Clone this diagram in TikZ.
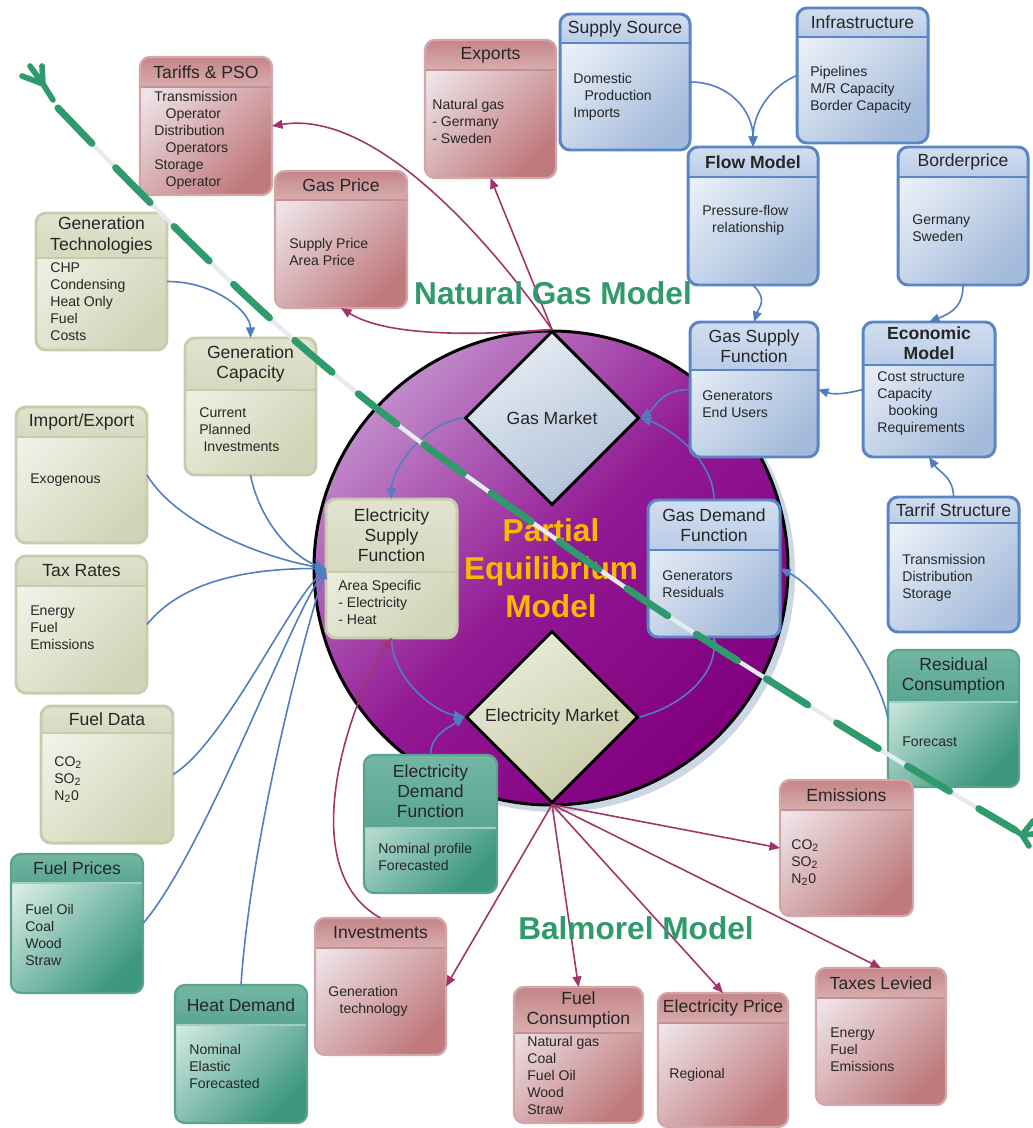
\documentclass[tikz,border=0pt]{standalone}
\usepackage{fontspec}
\setmainfont{Liberation Sans}
\usepackage{tikz}
\usetikzlibrary{
  arrows.meta,
  calc,
  shapes.geometric
}

\definecolor{redlt}{HTML}{EEE4E8}
\definecolor{reddk}{HTML}{C07A7D}
\definecolor{redhd}{HTML}{C58587}
\definecolor{redhd2}{HTML}{D8AEAF}
\definecolor{redfrm}{HTML}{D3A7A9}
\definecolor{redrl}{HTML}{C39193}
\definecolor{grnlt}{HTML}{F1F2E8}
\definecolor{grndk}{HTML}{D1D5B7}
\definecolor{grnhd}{HTML}{E1E3CF}
\definecolor{grnhd2}{HTML}{D6D9BF}
\definecolor{grnfrm}{HTML}{C8CCAC}
\definecolor{blult}{HTML}{EAF0F8}
\definecolor{bludk}{HTML}{A4BBDB}
\definecolor{bluhd}{HTML}{D2DEF0}
\definecolor{bluhd2}{HTML}{BACCE6}
\definecolor{blufrm}{HTML}{5A86C6}
\definecolor{teallt}{HTML}{D6ECE6}
\definecolor{tealdk}{HTML}{3C977E}
\definecolor{tealhd}{HTML}{73B6A3}
\definecolor{tealhd2}{HTML}{5AA791}
\definecolor{tealfrm}{HTML}{5BA38E}
\definecolor{tealrl}{HTML}{9FD0C2}
\definecolor{purlt}{HTML}{C08ACA}
\definecolor{purmd}{HTML}{921894}
\definecolor{purdk}{HTML}{80007E}
\definecolor{gaslt}{HTML}{E6ECF4}
\definecolor{gasdk}{HTML}{AFC0D6}
\definecolor{ellt}{HTML}{E9EBD9}
\definecolor{eldk}{HTML}{C7CAA6}
\definecolor{linkblue}{HTML}{4F7FC1}
\definecolor{linkred}{HTML}{A3336A}
\definecolor{modelgreen}{HTML}{2F9A6B}
\definecolor{pemgold}{HTML}{F8B800}
\definecolor{shadegray}{HTML}{CCD6E4}
\definecolor{dashgray}{HTML}{E6EBF1}
\definecolor{txtdark}{HTML}{262626}

\tikzset{
  red box/.style={rounded corners=0.2cm, inner sep=0pt, outer sep=0pt,
    top color=redlt, bottom color=reddk, shading angle=45},
  red head/.style={top color=redhd, bottom color=redhd2},
  red rule/.style={draw=redrl, line width=1pt},
  red frame/.style={draw=redfrm, line width=1.3pt, rounded corners=0.2cm},
  green box/.style={rounded corners=0.2cm, inner sep=0pt, outer sep=0pt,
    top color=grnlt, bottom color=grndk, shading angle=45},
  green head/.style={top color=grnhd, bottom color=grnhd2},
  green rule/.style={draw=grnfrm, line width=1pt},
  green frame/.style={draw=grnfrm, line width=1.7pt, rounded corners=0.2cm},
  blue box/.style={rounded corners=0.2cm, inner sep=0pt, outer sep=0pt,
    top color=blult, bottom color=bludk, shading angle=45},
  blue head/.style={top color=bluhd, bottom color=bluhd2},
  blue rule/.style={draw=blufrm, line width=1.4pt},
  blue frame/.style={draw=blufrm, line width=1.7pt, rounded corners=0.2cm},
  teal box/.style={rounded corners=0.2cm, inner sep=0pt, outer sep=0pt,
    top color=teallt, bottom color=tealdk, shading angle=45},
  teal head/.style={top color=tealhd, bottom color=tealhd2},
  teal rule/.style={draw=tealrl, line width=1pt},
  teal frame/.style={draw=tealfrm, line width=1.3pt, rounded corners=0.2cm},
  boxtitle/.style={font=\fontsize{10}{11.5}\selectfont, align=center,
    text=txtdark, inner sep=0pt},
  boxbody/.style={font=\fontsize{8}{9.7}\selectfont, align=left,
    anchor=north west, inner sep=0pt, text=txtdark},
  pemshadow/.style={circle, minimum size=478*0.02cm, inner sep=0pt, fill=shadegray},
  pemcircle/.style={circle, minimum size=474*0.02cm, inner sep=0pt,
    draw=black, line width=1.7pt,
    top color=purlt, bottom color=purdk, middle color=purmd, shading angle=45,
    font=\bfseries\fontsize{18}{21.5}\selectfont, text=pemgold, align=center},
  gasdia/.style={diamond, minimum width=174*0.02cm, minimum height=174*0.02cm,
    inner sep=0pt, draw=black, line width=1.7pt,
    top color=gaslt, bottom color=gasdk, shading angle=30,
    font=\fontsize{10}{12}\selectfont, text=txtdark},
  eldia/.style={diamond, minimum width=172*0.02cm, minimum height=172*0.02cm,
    inner sep=0pt, draw=black, line width=1.7pt,
    top color=ellt, bottom color=eldk, shading angle=30,
    font=\fontsize{10}{12}\selectfont, text=txtdark},
  modeltitle/.style={font=\bfseries\fontsize{18}{20}\selectfont, text=modelgreen},
  bluelink/.style={draw=linkblue, line width=0.9pt, -{Triangle[length=6pt,width=5pt]}},
  redlink/.style={draw=linkred, line width=0.9pt, -{Triangle[length=6pt,width=5pt]}},
  gasline/.style={draw=modelgreen, line width=4pt, line cap=round,
    dash pattern=on 0.98cm off 0.68cm},
  gasshade/.style={draw=dashgray, line width=2.5pt},
  forkline/.style={draw=modelgreen, line width=3.2pt, line cap=round}
}

% name, kind, top left, width, height, header height, title, body corner, body
\newcommand{\umlbox}[9]{%
  \node[#2 box, anchor=north west, minimum width=#4*0.02cm,
    minimum height=#5*0.02cm] (#1) at (#3) {};
  \begin{scope}
    \clip[rounded corners=0.2cm] (#1.north west) rectangle (#1.south east);
    \path[#2 head] (#1.north west) rectangle ($(#1.north east)+(0,#6)$);
  \end{scope}
  \draw[#2 rule] ($(#1.north west)+(0,#6)$) -- ($(#1.north east)+(0,#6)$);
  \draw[#2 frame] (#1.north west) rectangle (#1.south east);
  \node[boxtitle] (#1-t) at ($(#1.north)+(0,#6/2)$) {#7};
  \node[boxbody] (#1-b) at (#8) {#9};
}

\begin{document}
\begin{tikzpicture}[x=0.02cm, y=-0.02cm]
\useasboundingbox (0,0) rectangle (1033,1128);
\fill[white] (0,0) rectangle (1033,1128);

% the equilibrium core
\node[pemshadow] (pemsh) at (556,573) {};
\node[pemcircle] (pem) at (551,568) {Partial\\Equilibrium\\Model};
\node[gasdia] (gasmarket) at (552,418) {Gas Market};
\node[eldia] (elmarket) at (552,717) {Electricity Market};

% natural gas side
\umlbox{tariffs}{red}{140,57}{132}{138}{30}{Tariffs \& PSO}{154,91}{Transmission\\\hspace*{0.8em}Operator\\Distribution\\\hspace*{0.8em}Operators\\Storage\\\hspace*{0.8em}Operator}
\umlbox{gasprice}{red}{275,171}{132}{137}{29}{Gas Price}{289,238}{Supply Price\\Area Price}
\umlbox{exports}{red}{425,40}{131}{138}{30}{Exports}{432,99}{Natural gas\\- Germany\\- Sweden}
\umlbox{supply}{blue}{560,14}{130}{136}{29}{Supply Source}{573,73}{Domestic\\\hspace*{0.8em}Production\\Imports}
\umlbox{infra}{blue}{797,8}{131}{135}{29}{Infrastructure}{810,66}{Pipelines\\M/R Capacity\\Border Capacity}
\umlbox{flow}{blue}{688,147}{130}{138}{30}{\textbf{Flow Model}}{702,205}{Pressure-flow\\\hspace*{0.7em}relationship}
\umlbox{border}{blue}{898,147}{130}{138}{30}{Borderprice}{912,214}{Germany\\Sweden}
\umlbox{gassupply}{blue}{690,322}{128}{135}{48}{Gas Supply\\Function}{702,390}{Generators\\End Users}
\umlbox{econ}{blue}{863,322}{132}{135}{43}{\textbf{Economic}\\\textbf{Model}}{877,371}{Cost structure\\Capacity\\\hspace*{0.8em}booking\\Requirements}
\umlbox{tarstruct}{blue}{888,497}{131}{135}{26}{Tarrif Structure}{902,554}{Transmission\\Distribution\\Storage}
\umlbox{gasdemand}{blue}{648,500}{132}{137}{50}{Gas Demand\\Function}{662,570}{Generators\\Residuals}
\umlbox{residual}{teal}{888,650}{131}{137}{52}{Residual\\Consumption}{902,736}{Forecast}

% electricity side
\umlbox{gentech}{green}{36,213}{131}{137}{45}{Generation\\Technologies}{50,262}{CHP\\Condensing\\Heat Only\\Fuel\\Costs}
\umlbox{gencap}{green}{185,338}{131}{137}{52}{Generation\\Capacity}{199,407}{Current\\Planned\\\hspace*{0.3em}Investments}
\umlbox{impexp}{green}{16,407}{131}{136}{30}{Import/Export}{30,473}{Exogenous}
\umlbox{taxrates}{green}{16,556}{131}{137}{30}{Tax Rates}{30,605}{Energy\\Fuel\\Emissions}
\umlbox{fueldata}{green}{41,706}{132}{137}{27}{Fuel Data}{54,756}{CO\textsubscript{2}\\SO\textsubscript{2}\\N\textsubscript{2}0}
\umlbox{elsupply}{green}{326,499}{131}{139}{73}{Electricity\\Supply\\Function}{338,580}{Area Specific\\- Electricity\\- Heat}
\umlbox{eldemand}{teal}{364,755}{133}{138}{73}{Electricity\\Demand\\Function}{378,843}{Nominal profile\\Forecasted}
\umlbox{fuelprices}{teal}{11,854}{132}{139}{29}{Fuel Prices}{25,904}{Fuel Oil\\Coal\\Wood\\Straw}
\umlbox{heatdemand}{teal}{175,985}{132}{138}{40}{Heat Demand}{189,1044}{Nominal\\Elastic\\Forecasted}
\umlbox{invest}{red}{315,918}{131}{137}{30}{Investments}{328,986}{Generation\\\hspace*{0.8em}technology}
\umlbox{fuelcons}{red}{514,987}{129}{136}{46}{Fuel\\Consumption}{527,1036}{Natural gas\\Coal\\Fuel Oil\\Wood\\Straw}
\umlbox{elprice}{red}{658,993}{130}{134}{30}{Electricity Price}{669,1068}{Regional}
\umlbox{taxes}{red}{816,968}{130}{137}{30}{Taxes Levied}{830,1027}{Energy\\Fuel\\Emissions}
\umlbox{emissions}{red}{780,780}{133}{136}{30}{Emissions}{791,839}{CO\textsubscript{2}\\SO\textsubscript{2}\\N\textsubscript{2}0}

% gas links
\draw[bluelink] (supply.east) .. controls +(40,0) and +(0,-35) .. (flow.north);
\draw[bluelink] (infra.west) .. controls +(-25,10) and +(0,-35) .. (flow.north);
\draw[bluelink] (flow.south) .. controls +(15,15) and +(5,-15) .. (gassupply.north);
\draw[bluelink] (border.south) .. controls +(0,20) and +(25,-10) .. (econ.north);
\draw[bluelink] (econ.west) .. controls +(-20,5) and +(15,5) .. (gassupply.east);
\draw[bluelink] (tarstruct.north) .. controls +(0,-20) and +(10,15) .. (econ.south);
\draw[bluelink] (residual.west) .. controls +(-10,-50) and +(40,20) .. (gasdemand.east);
\draw[bluelink] (gassupply.west) .. controls +(-30,0) and +(15,-10) .. (gasmarket.east);
\draw[bluelink] (gasdemand.north) .. controls +(0,-40) and +(30,10) .. (gasmarket.east);
\draw[bluelink] (gasmarket.west) .. controls +(-40,5) and +(0,-30) .. (elsupply.north);
\draw[bluelink] (elsupply.south) .. controls +(0,40) and +(-30,-5) .. (elmarket.west);
\draw[bluelink] (eldemand.north) .. controls +(0,-20) and +(-15,10) .. (elmarket.west);
\draw[bluelink] (elmarket.east) .. controls +(40,-10) and +(0,40) .. (gasdemand.south);

% inputs to the electricity supply
\draw[bluelink] (gentech.east) .. controls +(50,0) and +(0,-25) .. (gencap.north);
\draw[bluelink] (gencap.south) .. controls +(10,50) and +(-30,-10) .. (elsupply.west);
\draw[bluelink] (impexp.east) .. controls +(30,50) and +(-60,-10) .. (elsupply.west);
\draw[bluelink] (taxrates.east) .. controls +(40,-50) and +(-60,0) .. (elsupply.west);
\draw[bluelink] (fueldata.east) .. controls +(50,-30) and +(-40,40) .. (elsupply.west);
\draw[bluelink] (fuelprices.east) .. controls +(60,-70) and +(-40,60) .. (elsupply.west);
\draw[bluelink] (heatdemand.north) .. controls +(10,-150) and +(-20,60) .. (elsupply.west);

% outputs
\draw[redlink] (gasmarket.north) .. controls +(-100,8) and +(40,25) .. (gasprice.south);
\draw[redlink] (gasmarket.north) .. controls +(-72,-102) and +(98,-16) .. (tariffs.east);
\draw[redlink] (gasmarket.north) -- (exports.south);
\draw[redlink] (elmarket.south) -- (invest.east);
\draw[redlink] (elmarket.south) -- (fuelcons.north);
\draw[redlink] (elmarket.south) -- (elprice.north);
\draw[redlink] (elmarket.south) -- (taxes.north);
\draw[redlink] (elmarket.south) -- (emissions.west);
\draw[redlink] (invest.north) .. controls +(-90,-50) and +(-40,60) .. (elsupply.south);

\node[modeltitle] (ngm) at (553,293) {Natural Gas Model};
\node[modeltitle] (bm) at (636,928) {Balmorel Model};

% border between the two models
\draw[gasshade] plot[smooth, tension=0.7] coordinates {(58,108) (300,345) (560,542) (800,700) (1015,830)};
\draw[gasline] plot[smooth, tension=0.7] coordinates {(58,108) (300,345) (560,542) (800,700) (1015,830)};
\draw[forkline] (53,100) -- (43,84) -- (22,76) (43,84) -- (30,66) (43,84) -- (42,66);
\draw[forkline] (1015,830) -- (1022,835) -- (1033,821) (1022,835) -- (1033,834) (1022,835) -- (1029,846);
\end{tikzpicture}
\end{document}
